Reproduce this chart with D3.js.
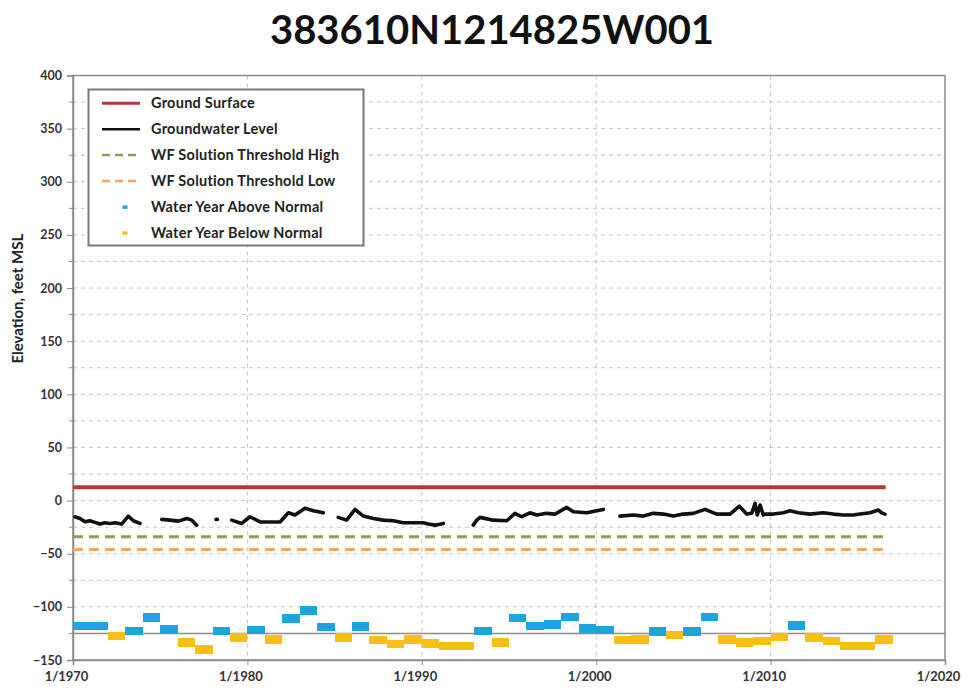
<!DOCTYPE html>
<html>
<head>
<meta charset="utf-8">
<script src="https://cdn.jsdelivr.net/npm/d3@7"></script>
<style>
  html, body { margin: 0; padding: 0; background: #fff; }
  svg { display: block; }
  text { font-family: Lato, "Open Sans", sans-serif; }
</style>
</head>
<body>
<svg id="chart" width="974" height="694"></svg>
<script>
// ---- Well hydrograph data ----
const wellId = "383610N1214825W001";

const yTicks = [400, 350, 300, 250, 200, 150, 100, 50, 0, -50, -100, -150];
const xTickYears = [1970, 1980, 1990, 2000, 2010, 2020];
const xTickLabels = ["1/1970", "1/1980", "1/1990", "1/2000", "1/2010", "1/2020"];

const groundSurface = 12.5;
const thresholdHigh = -34;
const thresholdLow = -46;
const normalLine = -125;
const seriesEndYear = 2016.6;

// Groundwater level measurements (decimal year, feet MSL); null marks a gap in record
const gwYears = [
  1970.11, 1970.40, 1970.69, 1970.97, 1971.26, 1971.55, 1971.83, 1972.12, 1972.41, 1972.79, 1973.17, 1973.46, 1973.84, 1974.3,
  1975.09, 1975.56, 1976.04, 1976.52, 1976.81, 1977.09, 1977.6,
  1978.20, 1978.28, 1978.7,
  1979.10, 1979.67, 1980.15, 1980.72, 1981.30, 1981.87, 1982.35, 1982.73, 1983.30, 1983.78, 1984.35, 1984.8,
  1985.21, 1985.69, 1986.17, 1986.65, 1987.22, 1987.79, 1988.37, 1988.94, 1989.51, 1990.09, 1990.37, 1990.76, 1991.23, 1992.0,
  1992.95, 1993.15, 1993.34, 1994.10, 1994.87, 1995.34, 1995.73, 1996.20, 1996.59, 1997.16, 1997.64, 1998.31, 1998.69, 1999.46, 2000.41, 2000.9,
  2001.36, 2002.13, 2002.70, 2003.27, 2003.85, 2004.42, 2004.99, 2005.57, 2006.24, 2006.91, 2007.68, 2008.21, 2008.63, 2008.92,
  2009.11, 2009.24, 2009.40, 2009.58, 2009.68, 2010.15, 2010.73, 2011.11, 2011.59, 2012.26, 2013.02, 2013.60, 2014.17, 2014.74,
  2015.13, 2015.70, 2016.18, 2016.37, 2016.56
];
const gwLevels = [
  -15.2, -16.8, -20.0, -19.0, -20.5, -22.1, -20.9, -21.5, -20.9, -22.1, -14.6, -19.0, -21.5, null,
  -17.7, -18.4, -19.3, -16.8, -18.4, -23.1, null,
  -17.7, -17.7, null,
  -18.4, -21.5, -15.2, -20.0, -20.2, -20.2, -11.5, -13.6, -7.3, -9.6, -11.5, null,
  -15.8, -18.4, -8.3, -14.6, -16.8, -18.4, -19.0, -20.9, -20.9, -20.9, -22.1, -23.1, -21.5, null,
  -23.1, -18.4, -15.8, -18.4, -19.0, -12.0, -15.2, -11.5, -13.6, -12.0, -12.7, -6.4, -10.5, -11.5, -8.3, null,
  -14.6, -13.6, -14.6, -12.0, -12.7, -14.6, -12.7, -12.0, -8.3, -12.7, -12.7, -5.2, -12.7, -12.0,
  -2.6, -13.6, -4.2, -13.6, -12.7, -12.7, -11.5, -9.6, -11.5, -12.7, -11.5, -12.7, -13.6, -13.6,
  -12.7, -11.5, -8.9, -11.5, -12.7
];

// Water year index (one bar per calendar year); above/below the -125 reference
const waterYears = [
  1970, 1971, 1972, 1973, 1974, 1975, 1976, 1977, 1978, 1979,
  1980, 1981, 1982, 1983, 1984, 1985, 1986, 1987, 1988, 1989,
  1990, 1991, 1992, 1993, 1994, 1995, 1996, 1997, 1998, 1999,
  2000, 2001, 2002, 2003, 2004, 2005, 2006, 2007, 2008, 2009,
  2010, 2011, 2012, 2013, 2014, 2015, 2016
];
const waterYearValues = [
  -118.0, -118.0, -127.4, -122.7, -109.8, -121.4, -133.6, -140.0, -122.7, -128.9,
  -122.0, -130.5, -111.1, -103.2, -118.8, -128.9, -118.6, -131.2, -134.9, -130.5,
  -134.4, -136.8, -136.8, -122.7, -133.6, -110.7, -118.0, -116.4, -109.4, -120.3,
  -122.0, -131.2, -130.5, -123.3, -126.4, -123.3, -109.4, -130.5, -133.3, -132.1,
  -128.2, -117.6, -128.9, -132.1, -136.8, -136.8, -130.8
];
const waterYearTypes = [
  "above", "above", "below", "above", "above", "above", "below", "below", "above", "below",
  "above", "below", "above", "above", "above", "below", "above", "below", "below", "below",
  "below", "below", "below", "above", "below", "above", "above", "above", "above", "above",
  "above", "below", "below", "above", "below", "above", "above", "below", "below", "below",
  "below", "above", "below", "below", "below", "below", "below"
];

const legendLabels = [
  "Ground Surface", "Groundwater Level", "WF Solution Threshold High",
  "WF Solution Threshold Low", "Water Year Above Normal", "Water Year Below Normal"
];

// ---- Styling ----
const colors = {
  ground: "#b8373a",
  gw: "#111111",
  high: "#8f9e56",
  low: "#f0a868",
  above: "#1ca4dd",
  below: "#f9c013",
  grid: "#c4c4c4",
  axis: "#8a8a8a",
  normal: "#8c8c8c"
};

const svg = d3.select("#chart");
const margin = { left: 73, right: 29, top: 75.5, bottom: 34 };
const W = 974, H = 694;
const plotW = W - margin.left - margin.right;
const plotH = H - margin.top - margin.bottom;

const x = d3.scaleLinear().domain([1970, 2020]).range([margin.left, margin.left + plotW]);
const y = d3.scaleLinear().domain([-150, 400]).range([margin.top + plotH, margin.top]);

// Title
svg.append("text")
  .attr("x", 492).attr("y", 44)
  .attr("text-anchor", "middle")
  .attr("font-size", 40).attr("font-weight", 700)
  .attr("fill", "#111")
  .text(wellId);

// Gridlines: horizontal every 25 ft, vertical every decade
const g = svg.append("g");
g.selectAll("line.hgrid")
  .data(d3.range(-125, 400, 25))
  .join("line")
  .attr("class", "hgrid")
  .attr("x1", x(1970)).attr("x2", x(2020))
  .attr("y1", d => y(d)).attr("y2", d => y(d))
  .attr("stroke", colors.grid).attr("stroke-width", 1)
  .attr("stroke-dasharray", "4,4");

g.selectAll("line.vgrid")
  .data(xTickYears.slice(1, -1))
  .join("line")
  .attr("class", "vgrid")
  .attr("x1", d => x(d)).attr("x2", d => x(d))
  .attr("y1", y(400)).attr("y2", y(-150))
  .attr("stroke", colors.grid).attr("stroke-width", 1)
  .attr("stroke-dasharray", "4,4");

// Normal reference line
g.append("line")
  .attr("x1", x(1970)).attr("x2", x(2020))
  .attr("y1", y(normalLine)).attr("y2", y(normalLine))
  .attr("stroke", colors.normal).attr("stroke-width", 1.5);

// Plot frame
g.append("rect")
  .attr("x", x(1970)).attr("y", y(400))
  .attr("width", x(2020) - x(1970)).attr("height", y(-150) - y(400))
  .attr("fill", "none").attr("stroke", colors.axis).attr("stroke-width", 1.5);

// Y axis with major (50) and minor (25) ticks
const yAxis = d3.axisLeft(y).tickValues(yTicks).tickSize(6).tickPadding(5).tickFormat(d3.format("d"));
const yg = svg.append("g").attr("transform", `translate(${x(1970)},0)`).call(yAxis);
yg.select(".domain").attr("stroke", colors.axis).attr("stroke-width", 1.5);
yg.selectAll(".tick line").attr("stroke", colors.axis);
yg.selectAll(".tick text").attr("font-size", 12.5).attr("font-weight", 700).attr("fill", "#333")
  .attr("font-family", "Lato, sans-serif");
svg.append("g").selectAll("line")
  .data(d3.range(-125, 400, 50))
  .join("line")
  .attr("x1", x(1970) - 4).attr("x2", x(1970))
  .attr("y1", d => y(d)).attr("y2", d => y(d))
  .attr("stroke", colors.axis);

// X axis
const xAxis = d3.axisBottom(x).tickValues(xTickYears).tickSize(5).tickPadding(7)
  .tickFormat((d, i) => xTickLabels[i]);
const xg = svg.append("g").attr("transform", `translate(0,${y(-150)})`).call(xAxis);
xg.select(".domain").attr("stroke", colors.axis).attr("stroke-width", 1.5);
xg.selectAll(".tick line").attr("stroke", colors.axis);
xg.selectAll(".tick text").attr("font-size", 13).attr("font-weight", 700).attr("fill", "#333")
  .attr("font-family", "Lato, sans-serif").attr("dx", -7);

// Y axis title
svg.append("text")
  .attr("transform", `translate(23,${y(190)}) rotate(-90)`)
  .attr("text-anchor", "middle")
  .attr("font-size", 15).attr("font-weight", 700).attr("fill", "#222")
  .text("Elevation, feet MSL");

// Water year bars
const barH = 8.5;
svg.append("g").attr("shape-rendering", "crispEdges").selectAll("rect")
  .data(waterYears.map((yr, i) => ({ yr, v: waterYearValues[i], t: waterYearTypes[i] })))
  .join("rect")
  .attr("x", d => Math.round(x(d.yr)))
  .attr("width", d => Math.round(x(d.yr + 1)) - Math.round(x(d.yr)))
  .attr("y", d => y(d.v) - barH / 2)
  .attr("height", barH)
  .attr("fill", d => d.t === "above" ? colors.above : colors.below);

// Threshold and ground surface lines
const hLine = (val, color, width, dash) => svg.append("line")
  .attr("x1", x(1970)).attr("x2", x(seriesEndYear))
  .attr("y1", y(val)).attr("y2", y(val))
  .attr("stroke", color).attr("stroke-width", width)
  .attr("stroke-dasharray", dash);

hLine(thresholdLow, colors.low, 3, "10,6");
hLine(thresholdHigh, colors.high, 3, "10,6");
hLine(groundSurface, colors.ground, 4, null);

// Groundwater level line
const gwData = gwYears.map((yr, i) => ({ yr, v: gwLevels[i] }));
const line = d3.line().defined(d => d.v !== null).x(d => x(d.yr)).y(d => y(d.v));
svg.append("path")
  .datum(gwData)
  .attr("d", line)
  .attr("fill", "none")
  .attr("stroke", colors.gw)
  .attr("stroke-width", 3.6)
  .attr("stroke-linejoin", "round")
  .attr("stroke-linecap", "round");

// Legend
const lg = svg.append("g");
lg.append("rect")
  .attr("x", 88.5).attr("y", 89.5).attr("width", 275).attr("height", 156)
  .attr("fill", "#fff").attr("stroke", "#7a7a7a").attr("stroke-width", 2);

const rowY = d3.range(6).map(i => 103.3 + i * 25.9);
const sampleX1 = 102, sampleX2 = 140, textX = 151;
const legendStyles = [
  { type: "line", color: colors.ground, dash: null, w: 3 },
  { type: "line", color: colors.gw, dash: null, w: 2.5 },
  { type: "line", color: colors.high, dash: "8,5", w: 2.5 },
  { type: "line", color: colors.low, dash: "8,5", w: 2.5 },
  { type: "mark", color: colors.above },
  { type: "mark", color: colors.below }
];
legendLabels.forEach((label, i) => {
  const s = legendStyles[i];
  if (s.type === "line") {
    lg.append("line")
      .attr("x1", sampleX1).attr("x2", sampleX2)
      .attr("y1", rowY[i]).attr("y2", rowY[i])
      .attr("stroke", s.color).attr("stroke-width", s.w)
      .attr("stroke-dasharray", s.dash);
  } else {
    lg.append("rect")
      .attr("x", 122.5).attr("y", rowY[i] - 1.5).attr("width", 5).attr("height", 3.5)
      .attr("fill", s.color);
  }
  lg.append("text")
    .attr("x", textX).attr("y", rowY[i])
    .attr("dy", "0.35em")
    .attr("font-size", 14.5).attr("font-weight", 700).attr("fill", "#222")
    .attr("letter-spacing", 0.25)
    .text(label);
});
</script>
</body>
</html>
